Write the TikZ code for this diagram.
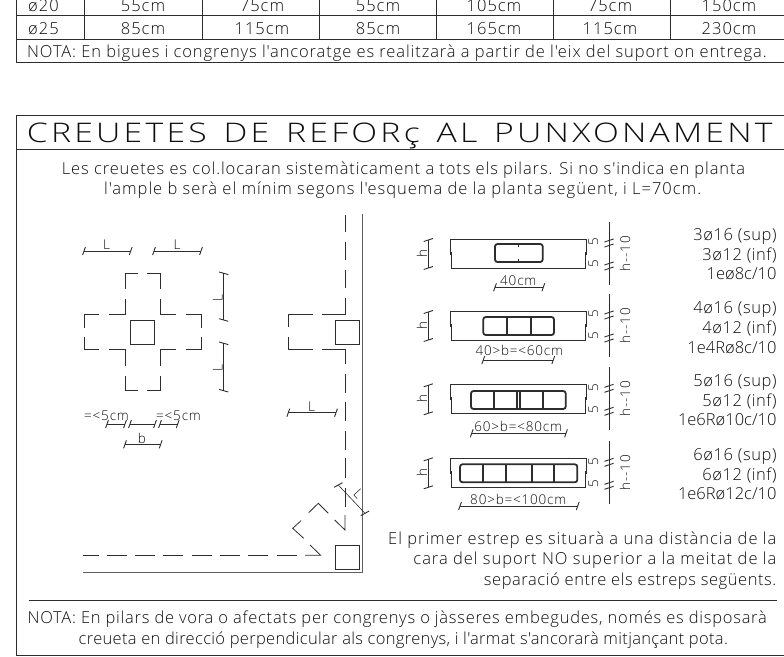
\documentclass[tikz,border=0pt]{standalone}
\usepackage{fontspec}
\usetikzlibrary{arrows.meta}
\setmainfont{Open Sans Light}
\newfontfamily\CadFont[LetterSpace=6]{Open Sans Light}
\newfontfamily\CadNarrow[LetterSpace=6]{Open Sans Light}
\newfontfamily\CadTitle[LetterSpace=12,FakeStretch=1.25,WordSpace=1.4]{Open Sans Light}
\definecolor{ColLine}{RGB}{45,45,45}
\definecolor{ColWall}{RGB}{95,95,95}
\definecolor{ColText}{RGB}{15,15,15}
\tikzstyle{LineFrame}=[ColLine,line width=0.8pt]
\tikzstyle{LineWall}=[ColWall,line width=1pt]
\tikzstyle{LineDash}=[ColLine,line width=0.8pt]
\tikzstyle{LineBar}=[ColLine,line width=1.8pt,rounded corners=2.5pt]
\tikzstyle{DimLine}=[ColLine,line width=0.6pt]
\tikzstyle{TextCad}=[inner sep=0pt,text=ColText,font=\CadFont\fontsize{16.5}{16.5}\selectfont]
\tikzstyle{TextDim}=[inner sep=0pt,text=ColText,font=\CadNarrow\fontsize{13.5}{13.5}\selectfont]
\tikzset{
    pics/TickH/.style={code={\draw[ColLine,line width=.9pt](-1.4,4)--(1.4,-4);}},
    pics/TickV/.style={code={\draw[ColLine,line width=.9pt](-4.6,-1.3)--(4.6,1.3);}},
    pics/TickS/.style={code={\draw[ColLine,line width=.9pt](-4.6,1.5)--(4.6,-1.5);}},
    pics/TickD/.style={code={\draw[ColLine,line width=.9pt](-4.2,2.3)--(4.2,-2.3);}}
}
\newcommand{\DimDraw}[3]{\draw[DimLine]#2--#3 pic[pos=0]{#1} pic[pos=1]{#1};}
\newcommand{\Spaced}[2]{\addfontfeatures{LetterSpace=#1}#2}
\begin{document}
\begin{tikzpicture}[x=1pt,y=-1pt]
    \useasboundingbox(0,0)rectangle(784,656);
    % table
    \draw[LineFrame](784,15.3)--(16.7,15.3);
    \draw[LineFrame](784,39)--(16.7,39);
    \draw[LineFrame](16.7,0)--(16.7,62.3)--(784,62.3);
    \foreach \xv in {84.7,202,319.3,436.3,553.7,670.3}{
        \draw[LineFrame](\xv,0)--(\xv,39);
    }
    \node[TextCad,anchor=base west](RowA)at(28,11){ø20};
    \node[TextCad,anchor=base west](RowB)at(28,34){ø25};
    \foreach \xc/\ta/\tb [count=\i] in {143/55/85,262/75/115,378/55/85,494/105/165,610/75/115,729/150/230}{
        \node[TextCad,anchor=base](CellA\i)at(\xc,11){\ta cm};
        \node[TextCad,anchor=base](CellB\i)at(\xc,34){\tb cm};
    }
    \node[TextCad,anchor=base west](NoteTable)at(27,57.5){\Spaced{5.5}{NOTA: En bigues i congrenys l'ancoratge es realitzarà a partir de l'eix del suport on entrega.}};
    % frame
    \draw[LineFrame](784,115)--(16.7,115)--(16.7,655)--(784,655);
    \draw[LineFrame](16.7,149.7)--(784,149.7);
    \draw[LineFrame](28.5,600.3)--(776.5,600.3);
    \node[inner sep=0pt,text=ColText,font=\CadTitle\fontsize{27}{27}\selectfont,anchor=base west](TitleMain)at(26.7,142.3){CREUETES DE REFORç AL PUNXONAMENT};
    \node[TextCad,anchor=base west](IntroA)at(61.7,174){\Spaced{5.4}{Les creuetes es col.locaran sistemàticament a tots els pilars. Si no s'indica en planta}};
    \node[TextCad,anchor=base west](IntroB)at(104,194){l'ample b serà el mínim segons l'esquema de la planta següent, i L=70cm.};
    % cross
    \draw[LineFrame](130.7,320)rectangle(154.7,344);
    \foreach \r in {0,90,180,270}{
        \begin{scope}[shift={(142.5,332)},rotate=\r]
            \draw[LineDash](-17.5,-43.5)--(-17.5,-58.5)--(-4.5,-58.5);
            \draw[LineDash](4.5,-58.5)--(17.5,-58.5)--(17.5,-43.5);
            \draw[LineDash](17.5,-33.5)--(17.5,-17.5)--(33.5,-17.5);
        \end{scope}
    }
    \DimDraw{TickH}{(84,251)}{(130.7,251)}
    \DimDraw{TickH}{(154,251)}{(201,251)}
    \node[TextDim,anchor=base](LabelLA)at(106.7,249.5){L};
    \node[TextDim,anchor=base](LabelLB)at(177,249.5){L};
    \DimDraw{TickV}{(223.7,273.3)}{(223.7,320)}
    \DimDraw{TickV}{(223.7,343.3)}{(223.7,390.7)}
    \node[TextDim,anchor=base,rotate=90](LabelLC)at(222.5,298){L};
    \node[TextDim,anchor=base,rotate=90](LabelLD)at(222.5,368){L};
    \node[TextDim,anchor=base west](LimitA)at(84,420){=<5cm};
    \node[TextDim,anchor=base west](LimitB)at(156,420){=<5cm};
    \DimDraw{TickH}{(107,424)}{(125,424)}
    \DimDraw{TickH}{(130,424)}{(155,424)}
    \DimDraw{TickH}{(160,424)}{(177.7,424)}
    \DimDraw{TickH}{(125,444.3)}{(160.7,444.3)}
    \node[TextDim,anchor=base](LabelB)at(142,443){b};
    % plan
    \draw[LineWall](362.7,214)--(362.7,572.7)--(83.3,572.7);
    \draw[LineFrame](335,320)rectangle(359,344);
    \draw[LineFrame](335,545.3)rectangle(359,569);
    \foreach \ya/\yb in {215/231.7,241.7/260,270/288.3,374/392.7,401.7/420.7,430.7/450,458.3/478.3,488.3/506.7}{
        \draw[LineDash](345,\ya)--(345,\yb);
    }
    \draw[LineDash](345,298)--(345,314.3)--(321.7,314.3);
    \draw[LineDash](312.5,314.3)--(288.3,314.3)--(288.3,326.7);
    \draw[LineDash](288.3,336.7)--(288.3,349.3)--(312.5,349.3);
    \draw[LineDash](321.7,349.3)--(345,349.3)--(345,364);
    \draw[LineDash](345,515)--(345,530)--(334.7,520);
    \draw[LineDash](328.3,513.3)--(318.3,503.3)--(308.7,512.7);
    \draw[LineDash](301,520.7)--(292.7,528.3)--(303.7,538.3);
    \draw[LineDash](310,545)--(320.7,555.3)--(305,555.3);
    \foreach \xa/\xb in {83.3/99,107.3/127.3,135/155,163.3/183.3,191.7/212,220/240,248.3/268.3,276.7/296.7}{
        \draw[LineDash](\xa,555.3)--(\xb,555.3);
    }
    \DimDraw{TickH}{(288.3,412.7)}{(336,412.7)}
    \node[TextDim,anchor=base](LabelLE)at(311.7,411.5){L};
    \DimDraw{TickD}{(338.3,485)}{(365,513.3)}
    \node[TextDim,anchor=base,rotate=-47](LabelLF)at(355,497){L};
    % sections
    \foreach \ys [count=\i] in {239,311,384.3,458.3}{
        \begin{scope}[shift={(0,\ys)}]
            \draw[LineFrame](450.7,16)--(450.7,0)--(586,0)--(586,16);
            \draw[LineFrame](451.7,13)--(451.7,29.5)--(585,29.5)--(585,13);
            \DimDraw{TickS}{(428.3,29)}{(428.3,1)}
            \node[TextDim,anchor=base,rotate=90](LabelH\i)at(427,14.5){h};
            \draw[LineFrame](609,-17)--(609,46);
            \DimDraw{TickS}{(609,6.5)}{(609,1.5)}
            \DimDraw{TickS}{(609,29.5)}{(609,24.5)}
            \node[TextDim,anchor=base,rotate=90](LabelTop\i)at(598,3){5};
            \node[TextDim,anchor=base,rotate=90](LabelBot\i)at(598,25){5};
            \node[TextDim,anchor=base,rotate=90](LabelRest\i)at(630,14.5){h--10};
        \end{scope}
    }
    \foreach \xa/\xb/\ya/\ticks in {495/542.7/244/{},483.3/554/317/{506.7,531},471/565.7/391/{494.3,516.7,520,543.3},460/577.3/464.3/{482.7,506,531.7,554.3}}{
        \draw[LineBar](\xa,\ya)rectangle(\xb,\ya+18);
        \foreach \xt in \ticks{
            \draw[LineBar](\xt,\ya)--(\xt,\ya+18);
        }
    }
    \draw[LineFrame](518.3,244)--(518.3,247);
    \draw[LineFrame](518.3,259)--(518.3,262);
    \DimDraw{TickH}{(495,287.3)}{(543.3,287.3)}
    \DimDraw{TickH}{(483.3,360)}{(553.3,360)}
    \DimDraw{TickH}{(471.7,433.3)}{(566,433.3)}
    \DimDraw{TickH}{(460,506)}{(577.7,506)}
    \node[TextDim,anchor=base](SizeA)at(518.3,285.5){40cm};
    \node[TextDim,anchor=base](SizeB)at(519.3,355){40>b=<60cm};
    \node[TextDim,anchor=base](SizeC)at(518.2,431){60>b=<80cm};
    \node[TextDim,anchor=base](SizeD)at(518.3,504.5){80>b=<100cm};
    % bars
    \foreach \ya/\ta/\tb/\tc [count=\i] in {240/3ø16/3ø12/{1eø8c/10},313.3/4ø16/4ø12/{1e4Rø8c/10},386/5ø16/5ø12/{1e6Rø10c/10},460/6ø16/6ø12/{1e6Rø12c/10}}{
        \node[TextCad,anchor=base east](BarSup\i)at(776.7,\ya){\Spaced{3.5}{\ta\ (sup)}};
        \node[TextCad,anchor=base east](BarInf\i)at(776.7,\ya+20){\Spaced{3.5}{\tb\ (inf)}};
        \node[TextCad,anchor=base east](BarEst\i)at(776.7,\ya+39.7){\Spaced{0}{\tc}};
    }
    \node[TextCad,anchor=base east](StirrupA)at(776.5,544){El primer estrep es situarà a una distància de la};
    \node[TextCad,anchor=base east](StirrupB)at(776.5,564){cara del suport NO superior a la meitat de la};
    \node[TextCad,anchor=base east](StirrupC)at(776.5,585){\Spaced{3.4}{separació entre els estreps següents.}};
    \node[TextCad,anchor=base west](NoteA)at(27.5,623.3){\Spaced{4.5}{NOTA: En pilars de vora o afectats per congrenys o jàsseres embegudes, només es disposarà}};
    \node[TextCad,anchor=base west](NoteB)at(78.5,644){\Spaced{2}{creueta en direcció perpendicular als congrenys, i l'armat s'ancorarà mitjançant pota.}};
\end{tikzpicture}
\end{document}
